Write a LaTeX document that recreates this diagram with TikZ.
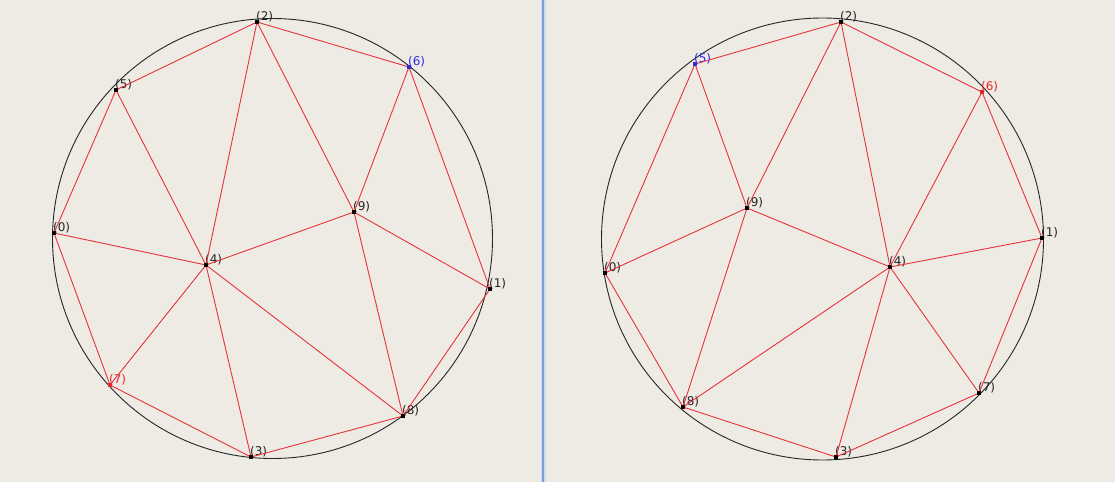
\documentclass[tikz,border=0pt]{standalone}
\usepackage{fontspec}
\setsansfont{DejaVu Sans}
\usetikzlibrary{positioning}
\definecolor{panelbg}{HTML}{EEEBE5}
\definecolor{splitblue}{HTML}{7C9CD9}
\definecolor{splitglow}{HTML}{CFDCEF}
\definecolor{edgered}{HTML}{E8323C}
\definecolor{sitered}{HTML}{E82828}
\definecolor{siteblue}{HTML}{2A2AE6}

\tikzset{
  lbl/.style={font=\sffamily\fontsize{12}{14}\selectfont, text=black!85,
    anchor=base west, inner sep=0pt, xshift=-3pt, yshift=2pt},
  dot/.style={rectangle, fill=black, draw=none, inner sep=0pt, minimum size=3.5pt},
  site/.style={dot, label={[lbl]right:{(#1)}}},
  sitecol/.style 2 args={dot, fill=#2, label={[lbl, text=#2]right:{(#1)}}},
  edge/.style={edgered, line width=0.9pt},
  rim/.style={black!85, line width=0.9pt}
}

\begin{document}
\begin{tikzpicture}[x=1pt, y=-1pt]
    % background and divider
    \fill[panelbg] (0,0) rectangle (1115,482);
    \useasboundingbox (0,0) rectangle (1115,482);
    \draw[splitglow, line width=5pt] (543,0) -- (543,482);
    \draw[splitblue, line width=2pt] (543,0) -- (543,482);

    % Left triangulation
    \draw[rim] (272.5,238.5) circle (220);
    \node[site=0] (l0) at (54,233) {};
    \node[site=1] (l1) at (490,289) {};
    \node[site=2] (l2) at (257,22) {};
    \node[site=3] (l3) at (251,457) {};
    \node[site=4] (l4) at (206,265) {};
    \node[site=5] (l5) at (116,90) {};
    \node[sitecol={6}{siteblue}] (l6) at (409,67) {};
    \node[sitecol={7}{sitered}] (l7) at (110,385) {};
    \node[site=8] (l8) at (403,416) {};
    \node[site=9] (l9) at (354,212) {};
    \foreach \a/\b in {0/5,5/2,2/6,6/1,1/8,8/3,3/7,7/0,
                       0/4,5/4,2/4,2/9,6/9,9/4,9/1,9/8,4/8,4/3,4/7}
        \draw[edge] (l\a) -- (l\b);

    % Right triangulation
    \draw[rim] (822.5,239) circle (221);
    \node[site=0] (r0) at (605,273) {};
    \node[site=1] (r1) at (1042,238) {};
    \node[site=2] (r2) at (841,22) {};
    \node[site=3] (r3) at (836,457) {};
    \node[site=4] (r4) at (890,267) {};
    \node[sitecol={5}{siteblue}] (r5) at (695,64) {};
    \node[sitecol={6}{sitered}] (r6) at (982,92) {};
    \node[site=7] (r7) at (979,393) {};
    \node[site=8] (r8) at (683,407) {};
    \node[site=9] (r9) at (747,208) {};
    \foreach \a/\b in {5/2,2/6,6/1,1/7,7/3,3/8,8/0,0/5,
                       5/9,9/2,2/4,6/4,9/0,9/4,9/8,4/1,4/7,4/3,4/8}
        \draw[edge] (r\a) -- (r\b);
\end{tikzpicture}
\end{document}
